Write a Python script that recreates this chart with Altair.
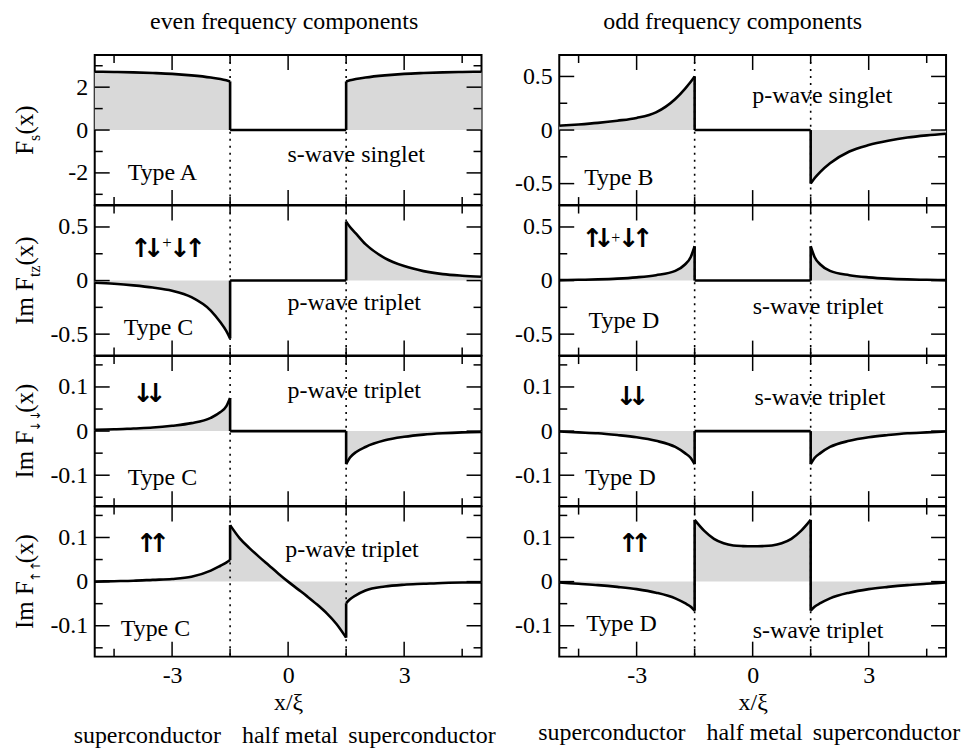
import altair as alt
import pandas as pd

FONT = "Liberation Serif"
AFONT = "DejaVu Sans"
GRAY = "#d9d9d9"

# x positions (x/xi) at which the curves were read
XL = [-5, -4.5, -4, -3.5, -3, -2.5, -2, -1.75, -1.6, -1.5]
XM = [-1.5, -1.25, -1.0, -0.75, -0.5, -0.25, 0, 0.25, 0.5, 0.75, 1.0, 1.25, 1.5]
XR = [1.5, 1.6, 1.75, 2, 2.5, 3, 3.5, 4, 4.5, 5]
ZM = [0, 0, 0, 0, 0, 0, 0, 0, 0, 0, 0, 0, 0]

# row 1: F_s(x)
fs_even_L = [2.72, 2.71, 2.69, 2.66, 2.62, 2.55, 2.45, 2.38, 2.32, 2.27]
fs_even_R = [2.27, 2.32, 2.38, 2.45, 2.55, 2.62, 2.66, 2.69, 2.71, 2.72]
fs_odd_L = [0.04, 0.052, 0.067, 0.087, 0.113, 0.165, 0.29, 0.385, 0.45, 0.5]
fs_odd_R = [-0.5, -0.45, -0.39, -0.31, -0.2, -0.14, -0.1, -0.07, -0.05, -0.035]
# row 2: Im F_tz(x)
ftz_even_L = [-0.02, -0.03, -0.045, -0.065, -0.095, -0.155, -0.28, -0.39, -0.47, -0.54]
ftz_even_R = [0.55, 0.5, 0.44, 0.34, 0.21, 0.135, 0.088, 0.06, 0.045, 0.035]
ftz_odd_L = [0.004, 0.007, 0.011, 0.018, 0.03, 0.05, 0.09, 0.15, 0.22, 0.32]
ftz_odd_R = [0.32, 0.22, 0.15, 0.09, 0.05, 0.03, 0.018, 0.011, 0.007, 0.004]
# row 3: Im F_dd(x)
fdd_even_L = [0.003, 0.004, 0.006, 0.008, 0.012, 0.018, 0.03, 0.043, 0.056, 0.075]
fdd_even_R = [-0.075, -0.06, -0.048, -0.036, -0.021, -0.013, -0.008, -0.005, -0.003, -0.002]
fdd_odd_L = [-0.001, -0.003, -0.005, -0.009, -0.014, -0.022, -0.036, -0.05, -0.061, -0.075]
fdd_odd_R = [-0.075, -0.061, -0.05, -0.036, -0.022, -0.014, -0.009, -0.005, -0.003, -0.001]
# row 4: Im F_uu(x)
fuu_even_L = [0.0, 0.001, 0.002, 0.004, 0.006, 0.011, 0.025, 0.036, 0.043, 0.049]
fuu_even_M = [0.128, 0.098, 0.076, 0.056, 0.037, 0.018, 0.0, -0.017, -0.034, -0.052, -0.072, -0.096, -0.127]
fuu_even_R = [-0.049, -0.04, -0.031, -0.02, -0.011, -0.007, -0.005, -0.003, -0.002, -0.002]
fuu_odd_L = [-0.002, -0.005, -0.008, -0.012, -0.017, -0.025, -0.038, -0.049, -0.057, -0.066]
fuu_odd_M = [0.14, 0.115, 0.097, 0.087, 0.082, 0.0805, 0.08, 0.0805, 0.082, 0.087, 0.097, 0.115, 0.14]
fuu_odd_R = [-0.066, -0.057, -0.049, -0.038, -0.025, -0.017, -0.012, -0.008, -0.005, -0.002]

X_MAJOR = [-3, 0, 3]
X_MINOR = [-4.5, -1.5, 1.5, 4.5]
INTERFACES = [-1.5, 1.5]
REGIONS = ["superconductor", "half metal", "superconductor"]
REGION_X = [-3.64, 0.05, 3.46]

W = 388
H = 150.5
MAJ = 15
MIN = 8


def neg_hyphen():
    return "datum.value < 0 ? '-' + format(-datum.value, '') : format(datum.value, '')"


def text_layer(rows, size):
    df = pd.DataFrame(rows, columns=["t", "x", "v"])
    return alt.Chart(df).mark_text(font=FONT, fontSize=size,
                                   color="black", baseline="middle", align="center").encode(
        x=alt.X("x:Q"), y=alt.Y("v:Q"), text="t:N")


def value_text(txt, x, y, size, angle=0, align="center", baseline="middle", font=FONT, weight="normal"):
    return alt.Chart(pd.DataFrame({"t": [txt]})).mark_text(
        font=font, fontSize=size, fontWeight=weight, color="black", angle=angle, align=align,
        baseline=baseline
    ).encode(x=alt.value(x), y=alt.value(y), text="t:N")


def panel(L, M, R, ydom, ymaj, ymin, labels, arrows, bottom=False, ytitle=None,
          coltitle=None, coltitle_x=0, region_y=None):
    rows = []
    for seg, xs, vs in (("L", XL, L), ("M", XM, M), ("R", XR, R)):
        for x, v in zip(xs, vs):
            rows.append({"x": x, "v": v, "seg": seg, "z": 0.0})
    df = pd.DataFrame(rows)
    jumps = pd.DataFrame({"x": INTERFACES, "v": [L[-1], M[-1]], "b": [M[0], R[0]]})

    if bottom:
        xaxis = alt.Axis(values=X_MAJOR, title="x/ξ", labelExpr=neg_hyphen(),
                         labelPadding=7, titlePadding=3)
    else:
        xaxis = None
    xenc = alt.X("x:Q", scale=alt.Scale(domain=[-5, 5], nice=False, zero=False), axis=xaxis)
    yenc = alt.Y("v:Q", scale=alt.Scale(domain=ydom, nice=False, zero=False),
                 axis=alt.Axis(values=ymaj, title=None, labelExpr=neg_hyphen(), labelPadding=7))

    layers = []
    layers.append(alt.Chart(df).mark_area(color=GRAY, interpolate="monotone").encode(
        x=xenc, y=yenc, y2="z:Q", detail="seg:N"))
    layers.append(alt.Chart(pd.DataFrame({"x": INTERFACES})).mark_rule(
        color="black", strokeWidth=1.6, strokeDash=[2, 5]).encode(x=xenc))
    layers.append(alt.Chart(df).mark_line(color="black", strokeWidth=2.6, interpolate="monotone").encode(
        x=xenc, y=yenc, detail="seg:N"))
    layers.append(alt.Chart(jumps).mark_rule(color="black", strokeWidth=2.6).encode(
        x=xenc, y=yenc, y2="b:Q"))

    # inward ticks
    tx_maj = pd.DataFrame({"x": X_MAJOR})
    tx_min = pd.DataFrame({"x": X_MINOR})
    for d, ln in ((tx_maj, MAJ), (tx_min, MIN)):
        layers.append(alt.Chart(d).mark_rule(color="black", strokeWidth=1.5).encode(
            x=xenc, y=alt.value(0), y2=alt.value(ln)))
        layers.append(alt.Chart(d).mark_rule(color="black", strokeWidth=1.5).encode(
            x=xenc, y=alt.value(H), y2=alt.value(H - ln)))
    ty_maj = pd.DataFrame({"v": ymaj})
    ty_min = pd.DataFrame({"v": ymin})
    for d, ln in ((ty_maj, MAJ), (ty_min, MIN)):
        layers.append(alt.Chart(d).mark_rule(color="black", strokeWidth=1.5).encode(
            y=yenc, x=alt.value(0), x2=alt.value(ln)))
        layers.append(alt.Chart(d).mark_rule(color="black", strokeWidth=1.5).encode(
            y=yenc, x=alt.value(W), x2=alt.value(W - ln)))

    layers.append(text_layer(labels, 24))
    for (t, x, v, size, isarrow) in arrows:
        layers.append(alt.Chart(pd.DataFrame({"t": [t], "x": [x], "v": [v]})).mark_text(
            font=AFONT if isarrow else FONT, fontSize=size,
            fontWeight="bold" if isarrow else "normal", color="black", baseline="middle").encode(
            x=alt.X("x:Q"), y=alt.Y("v:Q"), text="t:N"))

    if ytitle is not None:
        main, sub = ytitle
        main_w = {"F": 13.9, "Im F": 47.9}[main]
        sub_w = {"s": 6.5, "tz": 11.6, "↓↓": 18.0, "↑↑": 18.0}[sub]
        is_arr = sub in ("↓↓", "↑↑")
        tail_w = 29.2
        total = main_w + sub_w + tail_w
        start = H / 2 + total / 2
        a = start - main_w
        layers.append(value_text(main, -62, a, 25, angle=270, align="right", baseline="alphabetic"))
        layers.append(value_text(sub, -55, a + 1 if is_arr else a, 13 if is_arr else 16, angle=270,
                                 align="left", baseline="alphabetic", font=AFONT if is_arr else FONT))
        layers.append(value_text("(x)", -62, a - sub_w, 25, angle=270, align="left", baseline="alphabetic"))

    if coltitle is not None:
        layers.append(value_text(coltitle, coltitle_x, -33, 24))

    if region_y is not None:
        reg = pd.DataFrame({"t": REGIONS, "x": REGION_X})
        layers.append(alt.Chart(reg).mark_text(font=FONT, fontSize=24, color="black",
                                               baseline="middle").encode(
            x=alt.X("x:Q"), y=alt.value(region_y), text="t:N"))

    return alt.layer(*layers).properties(width=W, height=H)


ASZ = 26
UP_DN = [("↑", -3.8, 0.29, ASZ, True), ("↓", -3.47, 0.29, ASZ, True), ("+", -3.13, 0.35, 17, False),
         ("↓", -2.79, 0.29, ASZ, True), ("↑", -2.4, 0.29, ASZ, True)]
UP_DN_R = [("↑", -4.14, 0.385, ASZ, True), ("↓", -3.84, 0.385, ASZ, True), ("+", -3.54, 0.4, 16, False),
           ("↓", -3.2, 0.385, ASZ, True), ("↑", -2.84, 0.385, ASZ, True)]


def pair(ch, x1, x2, v):
    return [(ch, x1, v, ASZ, True), (ch, x2, v, ASZ, True)]


panels = [
    panel(fs_even_L, ZM, fs_even_R, [-3.5, 3.5], [-2, 0, 2], [-3, -1, 1, 3],
          [("Type A", -3.25, -2.0), ("s-wave singlet", 1.76, -1.15)], [],
          ytitle=("F", "s"), coltitle="even frequency components", coltitle_x=190),
    panel(fs_odd_L, ZM, fs_odd_R, [-0.7, 0.7], [-0.5, 0, 0.5], [-0.25, 0.25],
          [("Type B", -3.46, -0.45), ("p-wave singlet", 1.8, 0.32)], [],
          coltitle="odd frequency components", coltitle_x=174),
    panel(ftz_even_L, ZM, ftz_even_R, [-0.7, 0.7], [-0.5, 0, 0.5], [-0.25, 0.25],
          [("Type C", -3.35, -0.44), ("p-wave triplet", 1.71, -0.21)], UP_DN,
          ytitle=("Im F", "tz")),
    panel(ftz_odd_L, ZM, ftz_odd_R, [-0.7, 0.7], [-0.5, 0, 0.5], [-0.25, 0.25],
          [("Type D", -3.33, -0.38), ("s-wave triplet", 1.69, -0.25)], UP_DN_R),
    panel(fdd_even_L, ZM, fdd_even_R, [-0.17, 0.17], [-0.1, 0, 0.1], [-0.15, -0.05, 0.05, 0.15],
          [("Type C", -3.25, -0.107), ("p-wave triplet", 1.71, 0.09)],
          pair("↓", -3.74, -3.42, 0.083),
          ytitle=("Im F", "↓↓")),
    panel(fdd_odd_L, ZM, fdd_odd_R, [-0.17, 0.17], [-0.1, 0, 0.1], [-0.15, -0.05, 0.05, 0.15],
          [("Type D", -3.42, -0.107), ("s-wave triplet", 1.74, 0.075)],
          pair("↓", -3.26, -2.94, 0.077)),
    panel(fuu_even_L, fuu_even_M, fuu_even_R, [-0.17, 0.17], [-0.1, 0, 0.1], [-0.15, -0.05, 0.05, 0.15],
          [("Type C", -3.43, -0.107), ("p-wave triplet", 1.65, 0.072)],
          pair("↑", -3.65, -3.33, 0.086),
          bottom=True, ytitle=("Im F", "↑↑"), region_y=230),
    panel(fuu_odd_L, fuu_odd_M, fuu_odd_R, [-0.17, 0.17], [-0.1, 0, 0.1], [-0.15, -0.05, 0.05, 0.15],
          [("Type D", -3.39, -0.096), ("s-wave triplet", 1.69, -0.113)],
          pair("↑", -3.2, -2.88, 0.086),
          bottom=True, region_y=227),
]

chart = alt.concat(*panels, columns=2, spacing={"row": 0, "column": 78}, bounds="flush").properties(
    padding={"left": 3, "top": 0, "right": 0, "bottom": 0}
).configure_view(
    stroke="black", strokeWidth=2
).configure_axis(
    labelFont=FONT, titleFont=FONT, labelFontSize=24, titleFontSize=24,
    labelColor="black", titleColor="black", titleFontWeight="normal",
    grid=False, domain=False, ticks=False, tickSize=0,
)

chart.save("out.html", embed_options={"renderer": "svg", "actions": False})
